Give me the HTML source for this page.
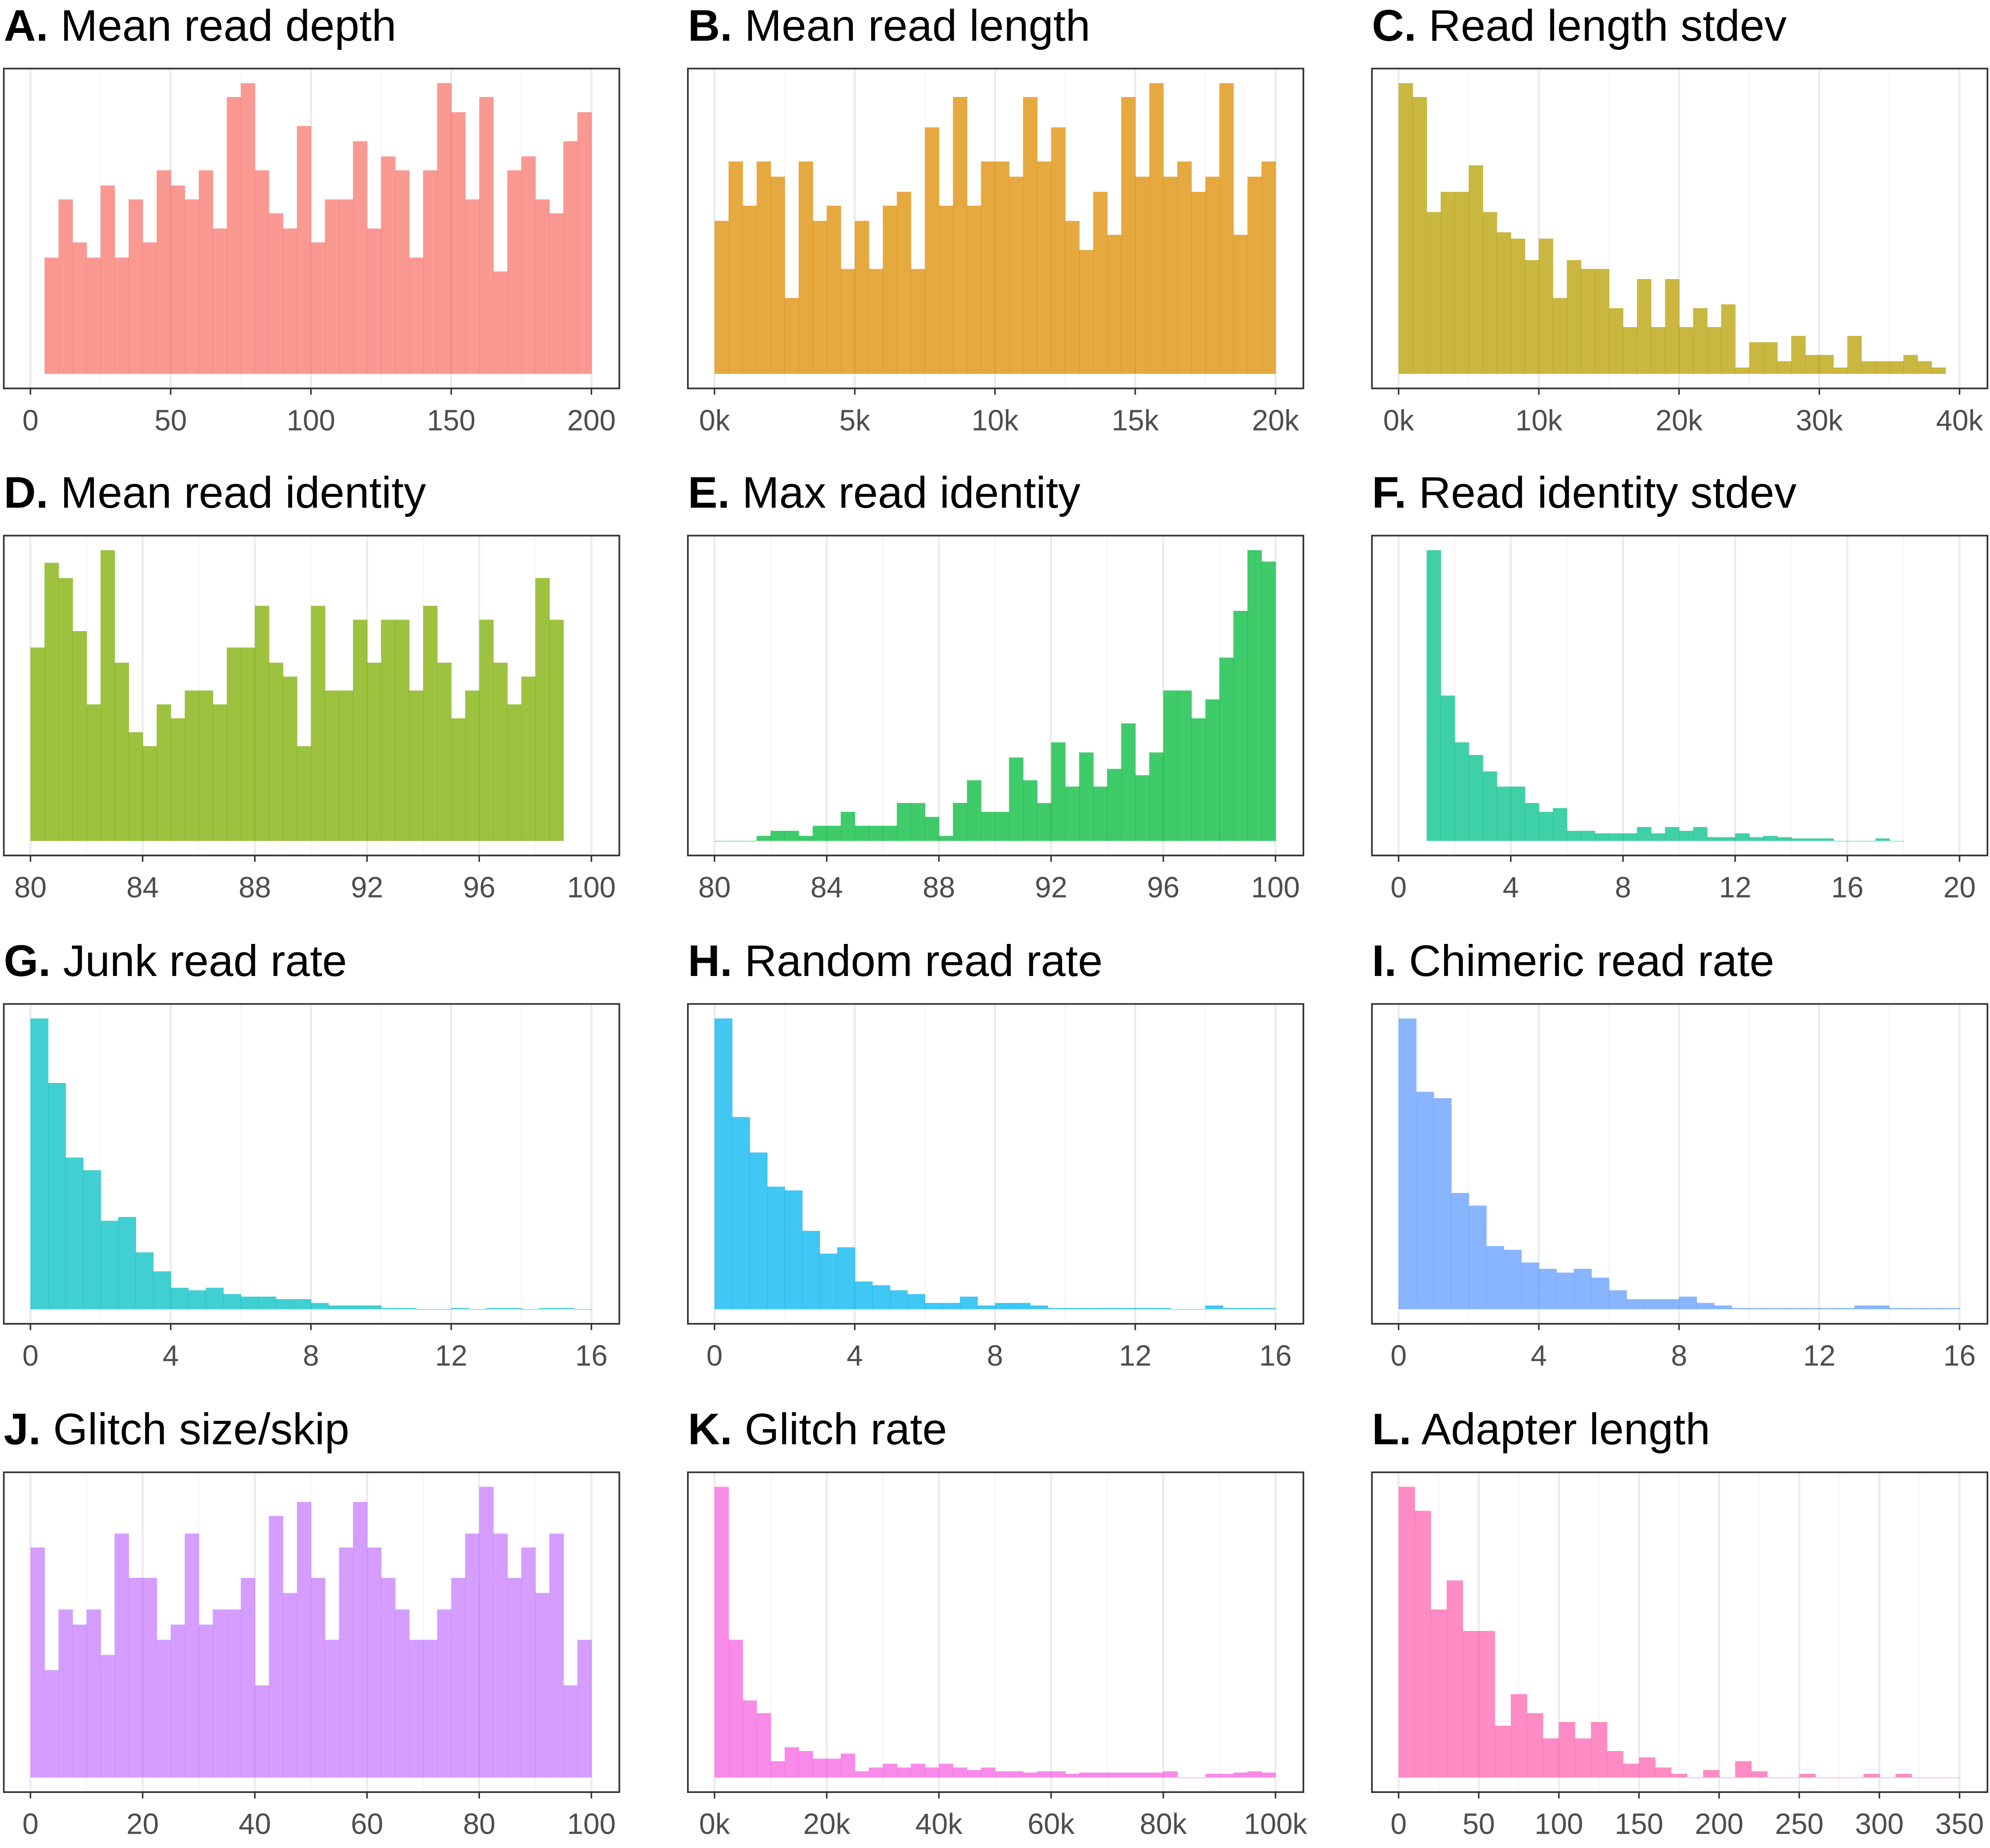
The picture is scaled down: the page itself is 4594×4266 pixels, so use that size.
<!DOCTYPE html>
<html><head><meta charset="utf-8"><style>
html,body{margin:0;padding:0;background:#fff;}
svg{display:block;font-family:"Liberation Sans",Arial,sans-serif;}
</style></head><body>
<svg id="chart" width="4594" height="4266" viewBox="0 0 1568 1456" xmlns="http://www.w3.org/2000/svg"></svg>
<script>
// ---- data (bin counts) ----
const titlesLetter = ["A.","B.","C.","D.","E.","F.","G.","H.","I.","J.","K.","L."];
const titlesText = ["Mean read depth","Mean read length","Read length stdev","Mean read identity","Max read identity","Read identity stdev","Junk read rate","Random read rate","Chimeric read rate","Glitch size/skip","Glitch rate","Adapter length"];
const binStart = [5,0,0,80,80,1,0,0,0,0,0,0];
const binWidth = [5,500,1000,0.5,0.5,0.5,0.5,0.5,0.5,2.5,2500,10];
const axisMin = [0,0,0,80,80,0,0,0,0,0,0,0];
const axisMax = [200,20000,40000,100,100,20,16,16,16,100,100000,350];
const tickStep = [50,5000,10000,4,4,4,4,4,4,20,20000,50];
const tickIsK = [false,true,true,false,false,false,false,false,false,false,true,false];
const colors = ["#F8766D","#DE8C00","#B79F00","#7CAE00","#00BA38","#00C08B","#00BFC4","#00B4F0","#619CFF","#C77CFF","#F564E3","#FF64B0"];
const countsA = [92,138,104,92,149,92,138,104,161,149,138,161,115,219,230,161,127,115,196,104,138,138,184,115,172,161,92,161,230,207,138,219,81,161,172,138,127,184,207];
const countsB = [121,168,133,168,156,60,168,121,133,83,121,83,133,144,83,195,133,219,133,168,168,156,219,168,195,121,98,144,110,219,156,230,156,168,144,156,230,110,156,168];
const countsC = [230,219,128,144,144,165,128,112,107,90,107,60,90,83,83,52,37,75,37,75,37,52,37,55,5,25,25,10,30,15,15,5,30,10,10,10,15,10,5];
const countsD = [153,220,208,166,108,230,141,86,75,108,97,119,119,108,153,153,186,141,130,75,186,119,119,175,141,175,175,119,186,141,97,119,175,141,108,130,208,175];
const countsE = [0,0,0,4,8,8,4,12,12,23,12,12,12,30,30,19,4,30,48,23,23,66,48,30,78,43,70,43,57,93,52,70,119,119,97,112,145,182,230,221];
const countsF = [230,115,78,68,55,43,43,30,23,26,8,8,6,6,6,11,6,11,8,11,3,3,6,3,4,3,2,2,2,0,0,0,2,0];
const countsG = [230,179,120,110,70,73,45,30,17,15,17,12,10,10,8,8,5,3,3,3,1,1,0,0,1,0,1,1,0,1,1,0];
const countsH = [230,152,124,97,94,62,44,49,22,19,15,12,5,5,10,3,5,5,3,1,1,1,1,1,1,1,0,0,3,1,1,1];
const countsI = [230,172,167,92,82,50,47,37,32,29,32,25,15,8,8,8,10,5,3,1,1,1,1,1,1,1,3,3,1,1,1,1];
const countsJ = [182,85,133,121,133,97,193,158,158,109,121,193,121,133,133,158,73,207,146,218,158,109,182,218,182,158,133,109,109,133,158,193,230,193,158,182,146,193,73,109];
const countsK = [230,109,61,51,13,24,21,15,15,19,5,8,11,8,11,8,11,8,6,8,5,5,4,5,5,3,4,4,4,4,4,4,5,0,0,3,3,4,5,4];
const countsL = [230,211,133,156,116,116,41,66,51,31,44,31,44,21,11,16,8,3,0,6,0,13,5,0,0,3,0,0,0,3,0,3,0,0,0];
const allCounts = [countsA,countsB,countsC,countsD,countsE,countsF,countsG,countsH,countsI,countsJ,countsK,countsL];

const NS = "http://www.w3.org/2000/svg";
const svg = document.getElementById("chart");
function mk(tag, attrs, parent){const e=document.createElementNS(NS,tag);for(const k in attrs)e.setAttribute(k,attrs[k]);(parent||svg).appendChild(e);return e;}
const colX=[3,542,1081], rowY=[54,422,791,1160], W=485, H=252;

for(let p=0;p<12;p++){
  const bx=colX[p%3], by=rowY[Math.floor(p/3)];
  const g=mk("g",{});
  
  
  const xs=v=>bx+21+(v-axisMin[p])/(axisMax[p]-axisMin[p])*442;
  const counts=allCounts[p];
  const mx=Math.max(...counts);
  const ys=c=>by+H-0.05*mx*(H/(1.1*mx))-c*(H/(1.1*mx));
  const t=mk("text",{x:bx,y:by-22,"font-size":35,fill:"#000"},g);
  
  
  const b=mk("tspan",{"font-weight":"bold"},t);b.textContent=titlesLetter[p];
  const r=mk("tspan",{},t);r.textContent=" "+titlesText[p];
  const st=tickStep[p];
  for(let v=axisMin[p];v<=axisMax[p]+1e-9;v+=st/2){
    const major=Math.abs(((v-axisMin[p])/st)-Math.round((v-axisMin[p])/st))<1e-6;
    const gl=mk("line",{x1:xs(v),x2:xs(v),y1:by,y2:by+H,stroke:major?"#EBEBEB":"#F3F3F3","stroke-width":major?1.6:0.8},g);
    
    
  }
  for(let i=0;i<counts.length;i++){
    const x0=binStart[p]+i*binWidth[p];
    const y=ys(counts[i]), yb=ys(0);
    const rect=mk("rect",{x:xs(x0),y:y,width:xs(x0+binWidth[p])-xs(x0)+0.3,height:Math.max(yb-y,0.4),fill:colors[p],"fill-opacity":0.75},g);
    
    
  }
  const box=mk("rect",{x:bx,y:by,width:W,height:H,fill:"none",stroke:"#333","stroke-width":1.3},g);
  
  
  for(let v=axisMin[p];v<=axisMax[p]+1e-9;v+=st){
    const tk=mk("line",{x1:xs(v),x2:xs(v),y1:by+H,y2:by+H+5,stroke:"#333","stroke-width":1.2},g);
    
    
    const lb=mk("text",{x:xs(v),y:by+H+33,"font-size":23,fill:"#4D4D4D","text-anchor":"middle"},g);
    
    
    lb.textContent=tickIsK[p]?(Math.round(v/1000)+"k"):String(Math.round(v));
  }
}
</script>
</body></html>
